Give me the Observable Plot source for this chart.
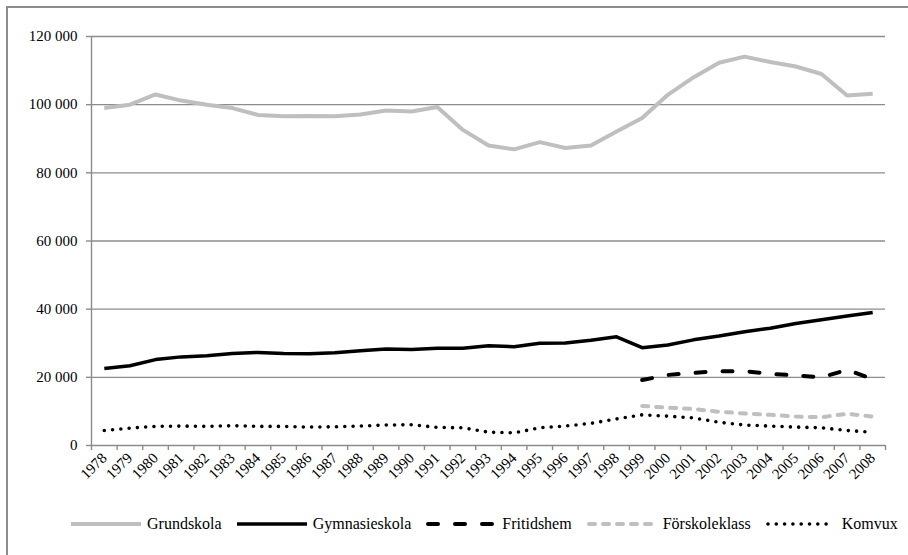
<!DOCTYPE html>
<html>
<head>
<meta charset="utf-8">
<script src="https://cdn.jsdelivr.net/npm/d3@7"></script>
<script src="https://cdn.jsdelivr.net/npm/@observablehq/plot@0.6"></script>
<style>
  html, body { margin: 0; padding: 0; background: #fff; font-family: 'Liberation Serif', serif; }
  #wrap { position: relative; width: 908px; height: 555px; overflow: hidden; font-family: 'Liberation Serif', serif; }
  #frame { position: absolute; left: 6px; top: 6px; width: 910px; height: 560px; border-left: 2px solid #8c8c8c; border-top: 2px solid #8c8c8c; }
  #chart { position: absolute; left: 0; top: 0; }
  #legend { position: absolute; left: 71px; top: 515px; display: flex; align-items: center; font-size: 16px; color: #000; white-space: nowrap; }
  .item { display: flex; align-items: center; margin-right: 15px; }
  .item svg { margin-right: 6px; }
  #chart svg, #chart svg text { font-family: 'Liberation Serif', serif; font-size: 15px; }
</style>
</head>
<body>
<div id="wrap">
  <div id="frame"></div>
  <div id="chart"></div>
  <div id="legend"></div>
</div>
<script>
const years = [1978,1979,1980,1981,1982,1983,1984,1985,1986,1987,1988,1989,1990,1991,1992,1993,1994,1995,1996,1997,1998,1999,2000,2001,2002,2003,2004,2005,2006,2007,2008];
const yearsLate = [1999,2000,2001,2002,2003,2004,2005,2006,2007,2008];

const grundskola = [99000,100000,103000,101200,100000,99000,97000,96600,96700,96600,97100,98300,98000,99300,92600,88000,86900,89000,87300,88000,92100,96100,102900,108000,112300,114100,112500,111200,109000,102700,103200];
const gymnasieskola = [22600,23400,25200,26000,26300,27000,27300,27000,26900,27200,27800,28300,28200,28500,28500,29300,29000,30000,30100,30900,31900,28700,29500,31000,32100,33400,34400,35800,36900,38000,39000];
const fritidshem = [19200,20700,21300,21800,21800,21000,20600,20000,22200,19500];
const forskoleklass = [11600,11100,10700,9900,9400,9000,8500,8300,9300,8500];
const komvux = [4400,5100,5600,5700,5600,5800,5600,5600,5400,5500,5700,6000,6100,5300,5200,3900,3700,5200,5700,6500,7800,9000,8600,8100,6800,6000,5700,5400,5200,4400,3900];

const yTicks = [0,20000,40000,60000,80000,100000,120000];
const seriesNames = ["Grundskola","Gymnasieskola","Fritidshem","Förskoleklass","Komvux"];

const seriesData = {
  "Grundskola": years.map((y,i) => ({year: y, value: grundskola[i]})),
  "Gymnasieskola": years.map((y,i) => ({year: y, value: gymnasieskola[i]})),
  "Fritidshem": yearsLate.map((y,i) => ({year: y, value: fritidshem[i]})),
  "Förskoleklass": yearsLate.map((y,i) => ({year: y, value: forskoleklass[i]})),
  "Komvux": years.map((y,i) => ({year: y, value: komvux[i]}))
};

const styles = {
  "Grundskola": {stroke: "#bfbfbf", strokeWidth: 4, strokeDasharray: null, strokeLinecap: "butt"},
  "Gymnasieskola": {stroke: "#000", strokeWidth: 3.5, strokeDasharray: null, strokeLinecap: "butt"},
  "Fritidshem": {stroke: "#000", strokeWidth: 4, strokeDasharray: "10 17", strokeLinecap: "round"},
  "Förskoleklass": {stroke: "#bfbfbf", strokeWidth: 4, strokeDasharray: "6 8", strokeLinecap: "round"},
  "Komvux": {stroke: "#000", strokeWidth: 3.6, strokeDasharray: "0 8.3", strokeLinecap: "round"}
};

const boundaries = years.map(y => y - 0.5).concat([years[years.length-1] + 0.5]);
const fmt = d => d3.format(",")(d).replace(/,/g, " ");
const grid = "#8c8c8c";
const FONT = "Liberation Serif";

const chart = Plot.plot({
  width: 908,
  height: 500,
  marginTop: 36,
  marginBottom: 55,
  marginLeft: 91,
  marginRight: 23,
  style: {fontFamily: FONT, fontSize: "15px", color: "#000", background: "transparent"},
  x: {type: "linear", domain: [boundaries[0], boundaries[boundaries.length-1]], axis: null},
  y: {domain: [0, 120000], axis: null},
  marks: [
    Plot.ruleY(yTicks.slice(1), {stroke: grid, strokeWidth: 1.4}),
    Plot.ruleX([boundaries[0]], {stroke: grid, strokeWidth: 1.4}),
    Plot.ruleY([0], {stroke: grid, strokeWidth: 1.4}),
    Plot.axisY(yTicks, {tickSize: 5, tickPadding: 9, stroke: grid, strokeWidth: 1.4, fill: "#000", tickFormat: fmt, label: null, fontFamily: FONT, fontSize: 15}),
    Plot.axisX(boundaries, {tickSize: 5, stroke: grid, strokeWidth: 1.4, tickFormat: () => "", label: null}),
    Plot.axisX(years, {tickSize: 0, tickPadding: 10, tickRotate: -45, fill: "#000", tickFormat: d => String(d), label: null, fontFamily: FONT, fontSize: 15}),
    ...seriesNames.map(name => Plot.line(seriesData[name], {
      x: "year", y: "value",
      stroke: styles[name].stroke,
      strokeWidth: styles[name].strokeWidth,
      strokeDasharray: styles[name].strokeDasharray,
      strokeLinecap: styles[name].strokeLinecap,
      strokeLinejoin: "round"
    }))
  ]
});
document.getElementById("chart").appendChild(chart);

const legend = document.getElementById("legend");
seriesNames.forEach(name => {
  const s = styles[name];
  const item = document.createElement("div");
  item.className = "item";
  const ns = "http://www.w3.org/2000/svg";
  const svg = document.createElementNS(ns, "svg");
  svg.setAttribute("width", 70);
  svg.setAttribute("height", 10);
  const line = document.createElementNS(ns, "line");
  const pad = s.strokeLinecap === "round" ? 2 : 0;
  line.setAttribute("x1", pad);
  line.setAttribute("x2", 70 - pad);
  line.setAttribute("y1", 5);
  line.setAttribute("y2", 5);
  line.setAttribute("stroke", s.stroke);
  line.setAttribute("stroke-width", s.strokeWidth);
  line.setAttribute("stroke-linecap", s.strokeLinecap);
  if (s.strokeDasharray) line.setAttribute("stroke-dasharray", s.strokeDasharray);
  svg.appendChild(line);
  const label = document.createElement("span");
  label.textContent = name;
  item.appendChild(svg);
  item.appendChild(label);
  legend.appendChild(item);
});
</script>
</body>
</html>
